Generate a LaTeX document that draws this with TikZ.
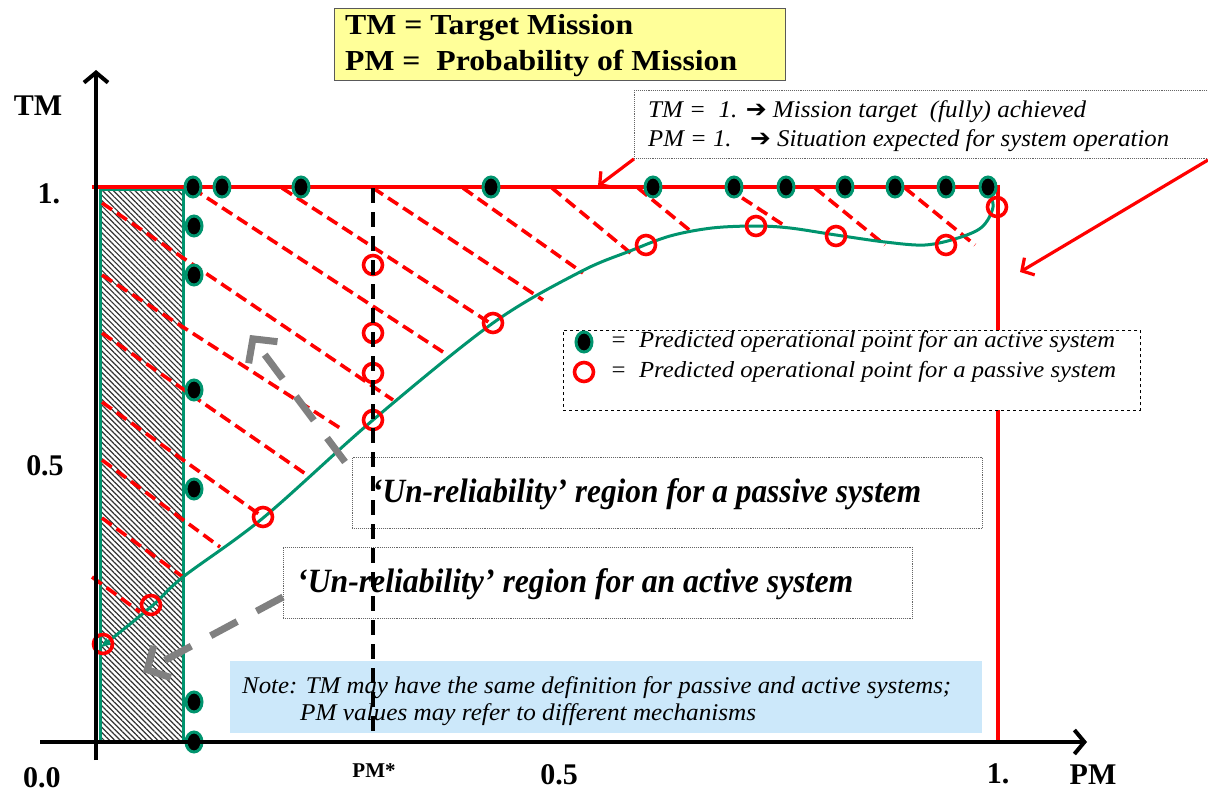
\documentclass[tikz,border=0pt]{standalone}
\usepackage{fontspec}
\setmainfont{Liberation Serif}
\newfontfamily\dejavu{DejaVu Sans}
\usetikzlibrary{arrows.meta,patterns.meta}
\definecolor{tgreen}{RGB}{0,148,110}
\definecolor{ylw}{RGB}{255,255,153}
\definecolor{lblue}{RGB}{204,232,250}
\definecolor{agray}{RGB}{128,128,128}
\newcommand{\fw}[2]{\resizebox{#1pt}{\height}{#2}}
\newcommand{\arr}{{\dejavu\bfseries ➔}}
\tikzset{
  rdash/.style={red, line width=3.6pt, dash pattern=on 12pt off 6pt},
  actpt/.style={draw=tgreen, fill=black, line width=3pt},
  paspt/.style={draw=red, line width=3.6pt},
  lbl/.style={inner sep=0pt, font=\fontsize{30}{30}\selectfont\bfseries},
  txt/.style={inner sep=0pt, anchor=west},
  dotbox/.style={draw=gray!80!black, densely dotted, line width=0.9pt},
  grayarrow/.style={draw=agray, line width=7pt, dash pattern=on 30pt off 22pt, -{Straight Barb[length=17pt,width=36pt,line width=7pt]}},
  redarrow/.style={draw=red, line width=3.2pt, -{Straight Barb[length=9pt,width=20pt]}},
  axis/.style={line width=4pt, -{Straight Barb[length=10pt,width=24pt]}}
}
\begin{document}
\begin{tikzpicture}[x=1pt,y=-1pt]
\useasboundingbox (0,0) rectangle (1208,792);
\fill[white] (0,0) rectangle (1208,792);

% hatched active un-reliability band
\draw[tgreen, line width=3pt, pattern={Lines[angle=-45,distance=3.8pt,line width=1.2pt]}, pattern color=black!80] (100,189) rectangle (183,742);

% red dashed hatching lines
\draw[rdash] (192,188) -- (443,352);
\draw[rdash] (282,188) -- (493,325);
\draw[rdash] (373,188) -- (543,300);
\draw[rdash] (463,188) -- (583,273);
\draw[rdash] (552,188) -- (633,255);
\draw[rdash] (638,188) -- (693,233);
\draw[rdash] (727,188) -- (785,226);
\draw[rdash] (815,188) -- (885,245);
\draw[rdash] (905,188) -- (975,245);
\draw[rdash] (102,203) -- (393,400);
\draw[rdash] (102,275) -- (340,428);
\draw[rdash] (102,333) -- (310,477);
\draw[rdash] (102,402) -- (263,517);
\draw[rdash] (102,460) -- (220,547);
\draw[rdash] (102,518) -- (183,577);
\draw[rdash] (92,577) -- (140,612);

% red target limits
\draw[red, line width=3.4pt] (92,187) -- (998,187) -- (998,742);

% green curve
\draw[tgreen, line width=3pt, -{Latex[length=11pt,width=9pt]}] plot[smooth, tension=0.55] coordinates {
 (988,187) (993,207) (982,227) (958,238) (925,245) (885,242) (836,235) (790,228) (756,226) (712,228) (670,236) (630,251) (580,272) (493,323) (373,420) (263,518) (183,577) (152,606) (100,648)};

% active points
\foreach \x in {193,222,301,491,653,734,786,845,895,946,988}
  \draw[actpt] (\x,187) ellipse [x radius=8, y radius=10];
\foreach \y in {226,275,390,489,702,742}
  \draw[actpt] (194,\y) ellipse [x radius=8, y radius=10];

% passive points
\foreach \p in {(373,265),(373,333),(373,373),(373,420),(493,323),(646,245),(756,226),(836,236),(946,245),(997,207),(263,517),(151,605),(103,644)}
  \draw[paspt] \p circle [radius=9.5];

% title box
\node[draw=gray!70!black, fill=ylw, line width=1pt, minimum width=451pt, minimum height=72pt, anchor=north west, inner sep=0pt] (title) at (334,8) {};
\node[txt] (title1) at (345,28) {\fw{288}{\fontsize{29}{29}\selectfont\bfseries TM = Target Mission}};
\node[txt] (title2) at (345,63) {\fw{392}{\fontsize{29}{29}\selectfont\bfseries PM =\ \ Probability of Mission}};

% top-right explanation box
\node[dotbox, fill=white, minimum width=600pt, minimum height=68pt, anchor=north west, inner sep=0pt] (expl) at (634,90) {};
\node[txt] (expl1) at (648,112) {\fw{438}{\fontsize{24}{24}\selectfont\itshape TM =\ \ 1. \arr\ Mission target\ \ (fully) achieved}};
\node[txt] (expl2) at (648,141) {\fw{521}{\fontsize{24}{24}\selectfont\itshape PM = 1.\ \ \ \arr\ Situation expected for system operation}};

% legend box
\node[draw=black, dashed, line width=0.9pt, fill=white, minimum width=577pt, minimum height=80pt, anchor=north west, inner sep=0pt] (legend) at (563,330) {};
\draw[actpt] (584,342) ellipse [x radius=8, y radius=10];
\draw[paspt] (584,372) circle [radius=9.5];
\node[txt] (leg1) at (610,342) {\fw{505}{\fontsize{23}{23}\selectfont\itshape =\ \ Predicted operational point for an active system}};
\node[txt] (leg2) at (610,372) {\fw{506}{\fontsize{23}{23}\selectfont\itshape =\ \ Predicted operational point for a passive system}};

% region label boxes
\node[dotbox, minimum width=630pt, minimum height=71pt, anchor=north west, inner sep=0pt] (pasbox) at (352,457) {};
\node[txt] (paslbl) at (372,494) {\fw{549}{\fontsize{34}{34}\selectfont\bfseries\itshape ‘Un-reliability’ region for a passive system}};
\node[dotbox, minimum width=629pt, minimum height=71pt, anchor=north west, inner sep=0pt] (actbox) at (283,547) {};
\node[txt] (actlbl) at (297,584) {\fw{556}{\fontsize{34}{34}\selectfont\bfseries\itshape ‘Un-reliability’ region for an active system}};

% note box
\node[fill=lblue, minimum width=752pt, minimum height=72pt, anchor=north west, inner sep=0pt] (note) at (230,661) {};
\node[txt] (note1) at (242,688) {\fw{709}{\fontsize{24}{24}\selectfont\itshape Note: TM may have the same definition for passive and active systems;}};
\node[txt] (note2) at (300,715) {\fw{456}{\fontsize{24}{24}\selectfont\itshape PM values may refer to different mechanisms}};

% PM* dashed line
\draw[black, line width=3.5pt, dash pattern=on 15pt off 9pt] (373,188) -- (373,742);

% gray dashed arrows
\coordinate (g1s) at (345,462);
\coordinate (g1e) at (250,335);
\coordinate (g2s) at (283,597);
\coordinate (g2e) at (143,672);
\draw[grayarrow] (g1s) -- (g1e);
\draw[grayarrow] (g2s) -- (g2e);

% red pointer arrows
\coordinate (r1e) at (598,186);
\coordinate (r2s) at (1208,160);
\coordinate (r2e) at (1020,272);
\draw[redarrow] (expl.south west) -- (r1e);
\draw[redarrow] (r2s) -- (r2e);

% axes
\coordinate (yb) at (96,760);
\coordinate (yt) at (96,70);
\coordinate (xl) at (40,742);
\coordinate (xr) at (1087,742);
\draw[axis] (yb) -- (yt);
\draw[axis] (xl) -- (xr);

% axis labels
\node[lbl] (tmlab) at (38,106) {TM};
\node[lbl] (y1) at (49,194) {1.};
\node[lbl] (y05) at (45,466) {0.5};
\node[lbl] (y00) at (42,778) {0.0};
\node[lbl, font=\fontsize{21}{21}\selectfont\bfseries] (pmstar) at (374,771) {PM*};
\node[lbl] (x05) at (559,775) {0.5};
\node[lbl] (x1) at (998,774) {1.};
\node[lbl] (pmlab) at (1093,775) {PM};
\end{tikzpicture}
\end{document}
